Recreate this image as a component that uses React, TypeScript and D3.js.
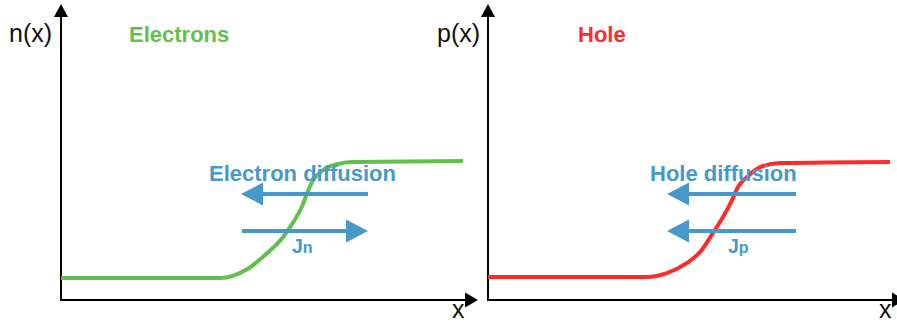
import React from "react";
import * as d3 from "d3";

// Carrier concentration profiles across the junction (position 0–100, level 0–100)
const electronX = [0, 39.75, 46.5, 51.5, 55.5, 58, 60.25, 61.5, 63, 65.5, 69, 72.75, 100.5];
const electronY = [7.5, 7.5, 10.5, 16, 21.5, 26.5, 32, 36.5, 41, 44.5, 46.5, 47.3, 47.6];
const holeX = [0, 39.75, 44.75, 49.75, 53, 56.25, 58.75, 61, 62.5, 64.75, 68, 73, 100.5];
const holeY = [7.9, 7.9, 9.2, 12.7, 16.4, 23, 28.4, 34.2, 38.7, 42.1, 45.5, 46.9, 47.3];

// Flux arrows: start, end, level
const electronArrowFrom = [76.75, 45.25];
const electronArrowTo = [45, 76.75];
const electronArrowLevel = [36.3, 23.6];
const holeArrowFrom = [77, 77];
const holeArrowTo = [44.75, 44.75];
const holeArrowLevel = [36.3, 23.6];

const panelTitles = ["Electrons", "Hole"];
const yAxisLabels = ["n(x)", "p(x)"];
const diffusionLabels = ["Electron diffusion", "Hole diffusion"];
const currentSubscripts = ["n", "p"];

const W = 897;
const H = 325;
const FONT = "'Liberation Sans', Arial, Helvetica, sans-serif";
const BLUE = "#4699c8";

type PanelProps = {
  originX: number;
  xs: number[];
  ys: number[];
  color: string;
  title: string;
  titleX: number;
  yLabel: string;
  yLabelX: number;
  diffusion: string;
  diffusionX: number;
  sub: string;
  subX: number;
  from: number[];
  to: number[];
  level: number[];
};

function Arrow({ x1, x2, y, color }: { x1: number; x2: number; y: number; color: string }) {
  const dir = Math.sign(x2 - x1);
  const headLen = 22;
  const headHalf = 11.5;
  const base = x2 - dir * headLen;
  return (
    <g>
      <line x1={x1} x2={base + dir * 1} y1={y} y2={y} stroke={color} strokeWidth={4} />
      <path d={`M${x2},${y} L${base},${y - headHalf} L${base},${y + headHalf} Z`} fill={color} />
    </g>
  );
}

function Panel(p: PanelProps) {
  const x = d3.scaleLinear().domain([0, 100]).range([p.originX, p.originX + 400]);
  const y = d3.scaleLinear().domain([0, 100]).range([300, 8]);
  const line = d3
    .line<number>()
    .x((_, i) => x(p.xs[i]))
    .y((d) => y(d))
    .curve(d3.curveMonotoneX);

  const ax0 = x(0);
  const ay0 = y(0);
  const yTip = y(101.4);
  const xTip = x(104.25);

  return (
    <g>
      {/* axes */}
      <line x1={ax0} y1={ay0} x2={ax0} y2={yTip + 12} stroke="#000" strokeWidth={2} />
      <path d={`M${ax0},${yTip} L${ax0 - 7},${yTip + 13} L${ax0 + 7},${yTip + 13} Z`} fill="#000" />
      <line x1={ax0 - 1} y1={ay0} x2={xTip - 12} y2={ay0} stroke="#000" strokeWidth={2} />
      <path d={`M${xTip},${ay0} L${xTip - 13},${ay0 - 7.5} L${xTip - 13},${ay0 + 7.5} Z`} fill="#000" />

      <text x={p.yLabelX} y={42} fontFamily={FONT} fontSize={25} fill="#111">
        {p.yLabel}
      </text>
      <text x={xTip - 26} y={318} fontFamily={FONT} fontSize={25} fill="#111">
        x
      </text>
      <text x={p.titleX} y={42} fontFamily={FONT} fontSize={22} fontWeight="bold" fill={p.color}>
        {p.title}
      </text>

      {/* concentration profile */}
      <path d={line(p.ys) ?? ""} fill="none" stroke={p.color} strokeWidth={4} />

      {/* diffusion and current arrows */}
      {p.from.map((f, i) => (
        <Arrow key={i} x1={x(f)} x2={x(p.to[i])} y={y(p.level[i])} color={BLUE} />
      ))}
      <text x={p.diffusionX} y={181} fontFamily={FONT} fontSize={22} fontWeight="bold" fill={BLUE}>
        {p.diffusion}
      </text>
      <text x={p.subX} y={253} fontFamily={FONT} fontWeight="bold" fill={BLUE}>
        <tspan fontSize={19.5}>J</tspan>
        <tspan fontSize={16}>{p.sub}</tspan>
      </text>
    </g>
  );
}

export default function App() {
  return (
    <svg
      width={W}
      height={H}
      viewBox={`0 0 ${W} ${H}`}
      style={{ position: "absolute", left: 0, top: 0, background: "#fff", display: "block" }}
    >
      <rect width={W} height={H} fill="#fff" />
      <Panel
        originX={61}
        xs={electronX}
        ys={electronY}
        color="#62bf4e"
        title={panelTitles[0]}
        titleX={129}
        yLabel={yAxisLabels[0]}
        yLabelX={9}
        diffusion={diffusionLabels[0]}
        diffusionX={209}
        sub={currentSubscripts[0]}
        subX={292}
        from={electronArrowFrom}
        to={electronArrowTo}
        level={electronArrowLevel}
      />
      <Panel
        originX={488}
        xs={holeX}
        ys={holeY}
        color="#ff2b2b"
        title={panelTitles[1]}
        titleX={578}
        yLabel={yAxisLabels[1]}
        yLabelX={437}
        diffusion={diffusionLabels[1]}
        diffusionX={650}
        sub={currentSubscripts[1]}
        subX={728}
        from={holeArrowFrom}
        to={holeArrowTo}
        level={holeArrowLevel}
      />
    </svg>
  );
}
